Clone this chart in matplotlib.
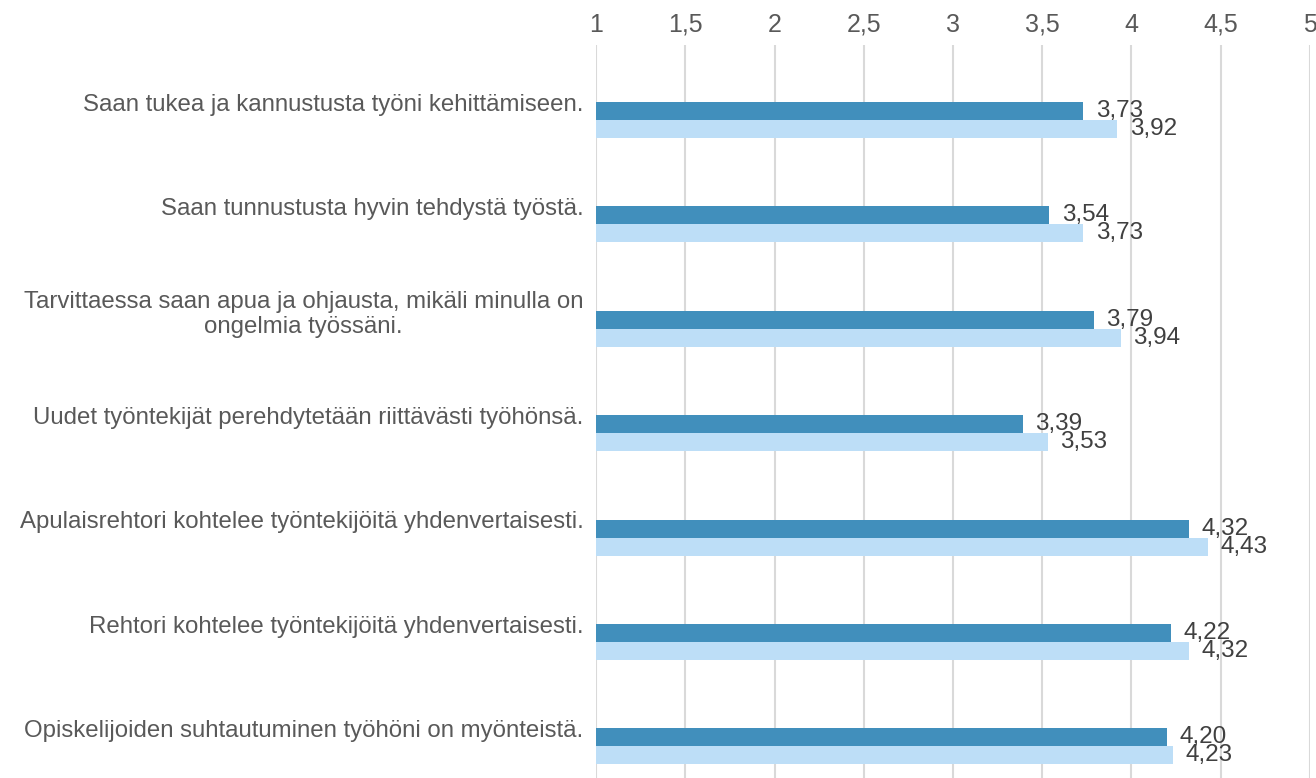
import numpy as np
import matplotlib
matplotlib.use("Agg")
from matplotlib import pyplot as plt

plt.rcParams['font.family'] = ['Liberation Sans', 'DejaVu Sans']

kysymykset = [
    "Saan tukea ja kannustusta työni kehittämiseen.",
    "Saan tunnustusta hyvin tehdystä työstä.",
    "Tarvittaessa saan apua ja ohjausta, mikäli minulla on\nongelmia työssäni.",
    "Uudet työntekijät perehdytetään riittävästi työhönsä.",
    "Apulaisrehtori kohtelee työntekijöitä yhdenvertaisesti.",
    "Rehtori kohtelee työntekijöitä yhdenvertaisesti.",
    "Opiskelijoiden suhtautuminen työhöni on myönteistä.",
]
sarja1 = [3.73, 3.54, 3.79, 3.39, 4.32, 4.22, 4.20]
sarja2 = [3.92, 3.73, 3.94, 3.53, 4.43, 4.32, 4.23]
x_ticks = [1, 1.5, 2, 2.5, 3, 3.5, 4, 4.5, 5]

W, H = 1316, 778
fig = plt.figure(figsize=(W / 100, H / 100), dpi=100)
ax = fig.add_axes([596 / W, 0, (1310 - 596) / W, 1 - 45 / H])

y = np.arange(len(kysymykset))
h = 18 / 104.4  # palkin paksuus
tumma = '#418FBC'
vaalea = '#BDDEF7'

b1 = ax.barh(y + h / 2, np.array(sarja1) - 1, left=1, height=h, color=tumma, zorder=3)
b2 = ax.barh(y + 1.5 * h, np.array(sarja2) - 1, left=1, height=h, color=vaalea, zorder=3)

for bars, vals in ((b1, sarja1), (b2, sarja2)):
    for b, v in zip(bars, vals):
        ax.annotate(f"{v:.2f}".replace('.', ','),
                    xy=(b.get_x() + b.get_width(), b.get_y() + b.get_height() / 2),
                    xytext=(9, 0), textcoords='offset points',
                    ha='left', va='center', fontsize=17.5, color='#404040', zorder=4)

ax.set_xlim(1, 5)
ax.set_ylim(6 + (778 - 728.4) / 104.4, -(102 - 45) / 104.4)
ax.set_xticks(x_ticks)
ax.set_xticklabels([f"{t:g}".replace('.', ',') for t in x_ticks])
ax.xaxis.tick_top()
ax.tick_params(axis='x', length=0, pad=6, labelsize=18, labelcolor='#595959')
ax.set_yticks(y)
ax.set_yticklabels(kysymykset, fontsize=17.3, color='#595959', multialignment='center',
                   linespacing=1.15)
ax.tick_params(axis='y', length=0, pad=9)

ax.grid(axis='x', color='#D9D9D9', linewidth=1.5, zorder=0)
for s in ax.spines.values():
    s.set_visible(False)

fig.savefig('out.png', dpi=100)
